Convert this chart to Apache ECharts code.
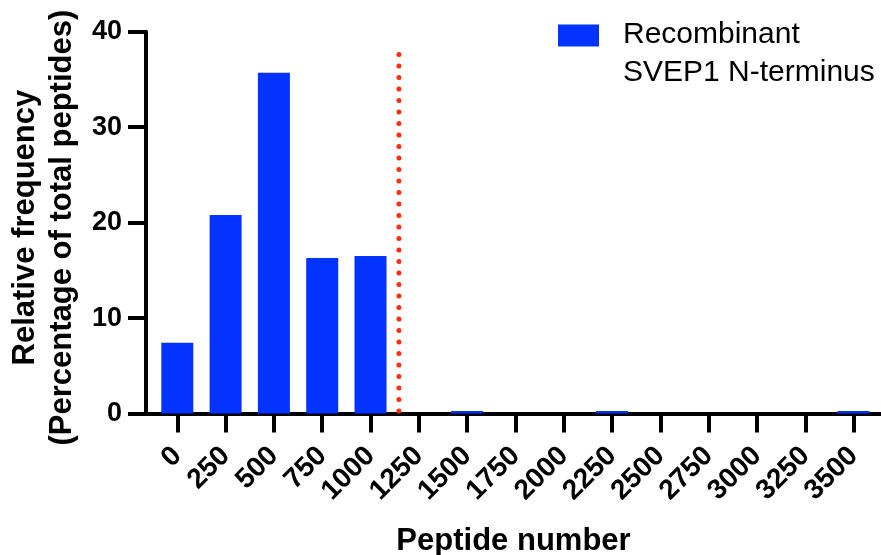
<!DOCTYPE html>
<html>
<head>
<meta charset="utf-8">
<script src="https://cdn.jsdelivr.net/npm/echarts@6/dist/echarts.min.js"></script>
<style>
html,body{margin:0;padding:0;background:#fff;}
#chart{width:881px;height:555px;}
</style>
</head>
<body>
<div id="chart"></div>
<script>
// Data
var peptideBins = [0, 250, 500, 750, 1000, 1250, 1500, 1750, 2000, 2250, 2500, 2750, 3000, 3250, 3500];
var frequency = [7.4, 20.8, 35.7, 16.3, 16.5, 0, 0.25, 0, 0, 0.25, 0, 0, 0, 0, 0.25];
var yTicks = [0, 10, 20, 30, 40];
var cutoffX = [1147, 1147];
var cutoffY = [37.6, 0];
var seriesName = 'Recombinant\nSVEP1 N-terminus';

var FONT = '"Liberation Sans", Arial, Helvetica, sans-serif';
var chart = echarts.init(document.getElementById('chart'), null, {renderer: 'canvas'});

var barData = peptideBins.map(function (b, i) { return [b, frequency[i]]; });
var lineData = cutoffX.map(function (x, i) { return [x, cutoffY[i]]; });

chart.setOption({
  animation: false,
  backgroundColor: '#ffffff',
  grid: {left: 146, right: 0, top: 31.7, bottom: 141.5, containLabel: false, outerBoundsMode: 'none'},
  legend: {
    show: true,
    data: [seriesName],
    left: 558,
    top: 16,
    itemWidth: 60,
    itemHeight: 59,
    itemGap: 0,
    padding: 0,
    selectedMode: false,
    icon: 'path://M0,0h41v22h-41z M59.99,58.99h0.01v0.01h-0.01z',
    textStyle: {
      fontFamily: FONT,
      fontSize: 30,
      color: '#000',
      lineHeight: 38
    },
    itemStyle: {color: '#0433ff'}
  },
  xAxis: {
    type: 'value',
    min: -162,
    max: 3642,
    name: 'Peptide number',
    nameLocation: 'middle',
    nameGap: 112,
    nameTextStyle: {fontFamily: FONT, fontSize: 31, fontWeight: 'bold', color: '#000', verticalAlign: 'top'},
    axisLine: {show: true, onZero: false, lineStyle: {color: '#000', width: 4}},
    axisTick: {show: true, customValues: peptideBins, length: 19, lineStyle: {color: '#000', width: 4}},
    axisLabel: {
      show: true,
      customValues: peptideBins,
      rotate: 45,
      margin: 38,
      fontFamily: FONT,
      fontSize: 28,
      fontWeight: 'bold',
      color: '#000',
      formatter: function (v) { return String(v); }
    },
    splitLine: {show: false}
  },
  yAxis: {
    type: 'value',
    min: 0,
    max: 40,
    interval: 10,
    name: 'Relative frequency\n(Percentage of total peptides)',
    nameLocation: 'middle',
    nameGap: 59,
    nameRotate: 90,
    nameTextStyle: {fontFamily: FONT, fontSize: 31, fontWeight: 'bold', color: '#000', lineHeight: 37, align: 'center', padding: [0, 10, 0, 0]},
    axisLine: {show: true, onZero: false, lineStyle: {color: '#000', width: 4}},
    axisTick: {show: true, length: 18, lineStyle: {color: '#000', width: 4}},
    axisLabel: {
      show: true,
      margin: 24,
      fontFamily: FONT,
      fontSize: 27,
      fontWeight: 'bold',
      color: '#000',
      formatter: function (v) { return String(v); }
    },
    splitLine: {show: false}
  },
  series: [
    {
      name: seriesName,
      type: 'bar',
      data: barData,
      barWidth: 32,
      itemStyle: {color: '#0433ff'},
      z: 2
    },
    {
      name: 'cutoff',
      type: 'line',
      data: lineData,
      symbol: 'none',
      lineStyle: {color: '#ff2d10', width: 5, type: [0, 11.5], cap: 'round'},
      z: 5
    }
  ]
});
</script>
</body>
</html>
